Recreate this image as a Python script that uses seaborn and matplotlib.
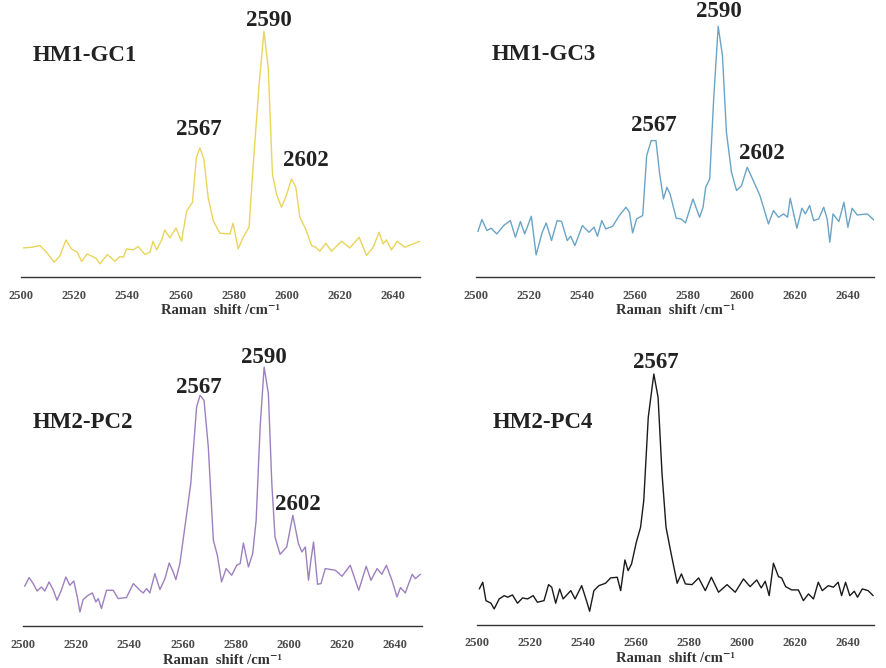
#!/usr/bin/env python3
"""
Raman spectra of four pyrite grains (HM1-GC1, HM1-GC3, HM2-PC2, HM2-PC4).

Redraws the 2x2 panel figure; intensities are arbitrary units read off
the published figure (height above the baseline axis).
"""

import matplotlib
matplotlib.use("Agg")
import matplotlib.pyplot as plt
import pandas as pd
import seaborn as sns

# ---- data -----------------------------------------------------------------
gc1_shift = [2500.9, 2504.0, 2507.1, 2509.6, 2512.5, 2514.7, 2516.9, 2519.0, 2521.2, 2522.8,
             2524.9, 2526.9, 2528.2, 2529.7, 2532.5, 2535.3, 2537.2, 2538.5, 2539.7, 2542.2,
             2544.1, 2546.6, 2548.5, 2549.7, 2551.0, 2552.9, 2554.1, 2556.0, 2558.3, 2560.4,
             2562.3, 2564.5, 2566.0, 2567.3, 2568.8, 2570.4, 2572.3, 2574.8, 2578.6, 2579.8,
             2581.7, 2583.6, 2585.8, 2587.3, 2589.6, 2591.4, 2593.0, 2594.6, 2596.1, 2598.0,
             2599.6, 2601.8, 2603.4, 2604.9, 2607.1, 2609.3, 2610.9, 2612.4, 2614.7, 2616.8,
             2620.6, 2623.7, 2627.2, 2630.0, 2632.5, 2634.7, 2636.2, 2637.5, 2639.4, 2641.5,
             2644.4, 2647.5, 2650.0]
gc1_intensity = [29.3, 30.0, 31.7, 25.0, 15.0, 21.7, 37.3, 28.3, 25.0, 15.7,
                 23.3, 20.7, 19.0, 13.3, 22.7, 16.0, 20.7, 20.0, 28.3, 27.3,
                 30.7, 22.7, 25.0, 36.0, 27.3, 37.3, 47.3, 39.3, 49.3, 36.0,
                 66.0, 75.0, 120.0, 129.3, 118.3, 80.0, 56.7, 44.0, 43.3, 54.0,
                 28.3, 40.0, 50.0, 110.0, 193.3, 246.0, 210.0, 103.3, 83.3, 70.0,
                 80.0, 98.3, 90.0, 60.0, 48.3, 31.7, 30.0, 26.0, 34.0, 26.0,
                 36.0, 29.3, 40.0, 21.7, 30.0, 45.0, 33.3, 37.3, 27.3, 36.0,
                 30.0, 33.3, 36.0]

gc3_shift = [2500.8, 2502.3, 2504.2, 2505.8, 2507.9, 2510.5, 2513.0, 2514.9, 2516.8, 2518.4,
             2520.9, 2522.7, 2525.0, 2526.5, 2528.5, 2530.6, 2532.3, 2534.4, 2535.7, 2537.3,
             2540.1, 2542.6, 2544.5, 2545.8, 2547.4, 2548.9, 2551.5, 2554.0, 2556.5, 2557.8,
             2559.0, 2560.5, 2562.8, 2564.3, 2566.0, 2567.8, 2569.1, 2570.6, 2571.9, 2573.1,
             2575.4, 2577.3, 2578.9, 2581.7, 2584.2, 2585.5, 2586.5, 2588.0, 2589.5, 2591.2,
             2592.8, 2594.3, 2596.2, 2598.1, 2600.0, 2602.1, 2604.4, 2606.9, 2608.8, 2610.1,
             2612.0, 2613.9, 2615.8, 2617.3, 2618.3, 2620.8, 2622.7, 2624.0, 2625.6, 2627.1,
             2629.0, 2630.9, 2632.2, 2633.2, 2634.4, 2636.6, 2638.5, 2640.0, 2641.6, 2643.5,
             2647.3, 2650.0]
gc3_intensity = [45.7, 57.7, 46.7, 49.0, 43.3, 51.7, 56.7, 40.0, 55.7, 43.3,
                 61.0, 22.3, 45.0, 54.3, 36.7, 56.7, 55.7, 36.7, 41.0, 31.7,
                 51.7, 45.0, 50.0, 41.0, 56.7, 48.3, 51.0, 61.7, 70.0, 65.0,
                 44.3, 58.3, 61.7, 121.7, 136.7, 136.7, 105.0, 78.3, 90.0, 83.3,
                 59.0, 58.3, 54.3, 78.3, 60.0, 70.0, 90.0, 98.3, 178.3, 251.0,
                 221.7, 145.0, 105.0, 86.7, 91.7, 110.0, 96.7, 81.7, 65.0, 53.3,
                 66.7, 60.0, 63.3, 60.0, 79.0, 49.0, 69.0, 63.3, 71.7, 56.7,
                 58.3, 70.0, 58.3, 35.0, 63.3, 55.7, 75.0, 50.0, 69.0, 62.3,
                 63.3, 56.7]

pc2_shift = [2500.6, 2502.3, 2503.8, 2505.3, 2506.9, 2508.2, 2509.8, 2511.3, 2512.8, 2514.4,
             2516.1, 2517.6, 2519.1, 2520.4, 2521.4, 2522.6, 2524.5, 2526.1, 2527.4, 2528.3,
             2529.5, 2531.4, 2533.9, 2535.8, 2538.9, 2541.5, 2543.7, 2545.2, 2546.5, 2547.7,
             2549.6, 2551.5, 2553.4, 2555.0, 2556.5, 2557.5, 2559.0, 2560.9, 2563.1, 2565.3,
             2566.6, 2568.1, 2569.7, 2571.6, 2573.1, 2574.7, 2576.4, 2578.5, 2580.4, 2581.7,
             2582.9, 2584.8, 2586.4, 2587.7, 2589.2, 2590.7, 2592.3, 2593.6, 2594.8, 2596.7,
             2599.2, 2601.5, 2603.6, 2604.9, 2606.2, 2607.4, 2608.3, 2609.3, 2610.8, 2612.1,
             2613.7, 2617.5, 2620.0, 2623.1, 2626.3, 2629.1, 2630.9, 2633.2, 2635.0, 2636.7,
             2638.8, 2640.7, 2642.0, 2643.8, 2646.4, 2647.6, 2649.5]
pc2_intensity = [40.0, 48.7, 42.7, 35.3, 39.3, 35.3, 44.3, 36.7, 26.0, 36.0,
                 49.3, 41.0, 45.3, 29.3, 14.3, 26.7, 31.0, 33.3, 24.3, 27.7,
                 17.7, 36.0, 36.0, 27.7, 28.7, 42.7, 36.7, 33.3, 37.7, 33.3,
                 52.7, 36.7, 47.7, 63.3, 54.3, 46.7, 62.7, 99.3, 142.7, 219.3,
                 231.0, 226.0, 179.3, 86.0, 71.0, 44.3, 57.7, 51.0, 61.0, 62.7,
                 83.3, 59.3, 72.7, 106.0, 199.3, 259.3, 232.7, 142.7, 89.3, 72.0,
                 79.3, 111.0, 82.7, 74.3, 79.3, 46.0, 66.0, 84.3, 42.0, 42.7,
                 57.7, 56.0, 50.0, 61.0, 36.0, 60.0, 46.0, 57.7, 52.0, 61.0,
                 46.0, 29.3, 38.7, 33.3, 52.0, 47.7, 52.0]

pc4_shift = [2501.0, 2502.3, 2503.5, 2505.4, 2506.6, 2508.5, 2510.4, 2511.7, 2513.5, 2515.4,
             2517.3, 2519.2, 2521.3, 2522.9, 2525.4, 2527.1, 2528.3, 2529.8, 2531.3, 2532.6,
             2535.5, 2537.1, 2539.6, 2541.4, 2542.6, 2544.2, 2546.1, 2548.6, 2550.5, 2553.0,
             2554.3, 2555.9, 2557.1, 2558.4, 2560.2, 2561.8, 2563.0, 2564.7, 2566.8, 2568.4,
             2569.9, 2571.4, 2573.1, 2575.6, 2577.2, 2578.7, 2581.2, 2583.7, 2586.2, 2588.5,
             2591.2, 2594.4, 2597.5, 2600.6, 2603.1, 2605.6, 2607.3, 2608.8, 2610.3, 2611.9,
             2613.8, 2615.0, 2616.5, 2618.8, 2621.3, 2623.2, 2625.1, 2627.0, 2628.8, 2630.3,
             2632.6, 2634.5, 2636.3, 2637.6, 2639.1, 2640.7, 2642.4, 2643.6, 2645.4, 2647.6,
             2649.5]
pc4_intensity = [36.0, 42.7, 24.3, 21.7, 16.0, 26.0, 29.3, 27.7, 30.0, 21.7,
                 27.0, 26.0, 29.3, 22.7, 24.3, 40.3, 37.7, 21.7, 36.0, 26.0,
                 34.3, 26.0, 39.3, 24.3, 13.7, 34.3, 39.3, 41.7, 47.0, 47.7,
                 34.3, 65.0, 54.3, 61.0, 82.7, 97.7, 124.3, 207.7, 251.0, 227.7,
                 151.0, 97.7, 74.3, 41.7, 51.0, 41.0, 40.3, 47.0, 34.3, 47.7,
                 32.7, 40.3, 32.7, 46.0, 38.3, 45.0, 37.0, 43.7, 29.3, 61.7,
                 48.3, 47.0, 38.3, 35.0, 35.0, 24.3, 31.0, 26.0, 42.7, 34.3,
                 39.3, 37.7, 42.7, 29.3, 42.7, 29.3, 33.7, 27.7, 36.0, 34.3,
                 29.3]

sample_names = ["HM1-GC1", "HM1-GC3", "HM2-PC2", "HM2-PC4"]
line_colors = ["#e9d55c", "#6aa4c6", "#9d80bf", "#1a1a1a"]

# peak labels per panel: (text, shift, height)
peak_labels = [
    [("2567", 2566.9, 148.0), ("2590", 2593.4, 256.7), ("2602", 2607.1, 116.7)],
    [("2567", 2567.0, 151.7), ("2590", 2591.5, 265.7), ("2602", 2607.6, 123.3)],
    [("2567", 2566.2, 238.7), ("2590", 2590.7, 268.7), ("2602", 2603.4, 122.0)],
    [("2567", 2567.4, 262.7)],
]
# sample name positions (shift, height)
name_positions = [(2523.9, 221.7), (2525.6, 223.3), (2522.6, 204.3), (2524.8, 202.7)]

tick_values = list(range(2500, 2641, 20))


def draw_panel(ax, shift, intensity, color, name, name_pos, peaks):
    """Draw one spectrum panel."""
    df = pd.DataFrame({"shift": shift, "intensity": intensity})
    sns.lineplot(data=df, x="shift", y="intensity", ax=ax, color=color,
                 linewidth=1.0, sort=False, estimator=None)

    ax.set_xlim(2500, 2650)
    ax.set_ylim(0, 270)
    ax.set_xticks(tick_values)
    ax.set_xticklabels([str(t) for t in tick_values], fontsize=9,
                       fontweight="bold", color="#4a4a4a")
    ax.set_yticks([])
    ax.set_ylabel("")
    ax.set_xlabel("Raman  shift /cm\u207b\u00b9", fontsize=10.5,
                  fontweight="bold", color="#333333", labelpad=2)
    ax.tick_params(axis="x", direction="out", length=3, width=0.9,
                   color="#333333", pad=6)

    for side in ["top", "right", "left"]:
        ax.spines[side].set_visible(False)
    ax.spines["bottom"].set_color("#333333")
    ax.spines["bottom"].set_linewidth(1.0)

    ax.text(name_pos[0], name_pos[1], name, ha="center", va="center",
            fontsize=16.5, fontweight="bold", color="#222222")
    for label, x, y in peaks:
        ax.text(x, y, label, ha="center", va="center", fontsize=16.5,
                fontweight="bold", color="#222222")


def main():
    sns.set_style("white")
    plt.rcParams["font.family"] = ["Liberation Serif", "DejaVu Serif"]

    fig = plt.figure(figsize=(8.86, 6.68), dpi=100)
    # axes rectangles in figure fractions: left, bottom, width, height
    rects = [
        [0.0237, 0.585, 0.450, 0.404],
        [0.537, 0.585, 0.450, 0.404],
        [0.0260, 0.0625, 0.450, 0.404],
        [0.538, 0.0645, 0.449, 0.404],
    ]
    spectra = [
        (gc1_shift, gc1_intensity),
        (gc3_shift, gc3_intensity),
        (pc2_shift, pc2_intensity),
        (pc4_shift, pc4_intensity),
    ]

    for i, rect in enumerate(rects):
        ax = fig.add_axes(rect)
        ax.patch.set_alpha(0)
        draw_panel(ax, spectra[i][0], spectra[i][1], line_colors[i],
                   sample_names[i], name_positions[i], peak_labels[i])

    fig.savefig("out.png", dpi=100, facecolor="white")
    plt.close(fig)


if __name__ == "__main__":
    main()
